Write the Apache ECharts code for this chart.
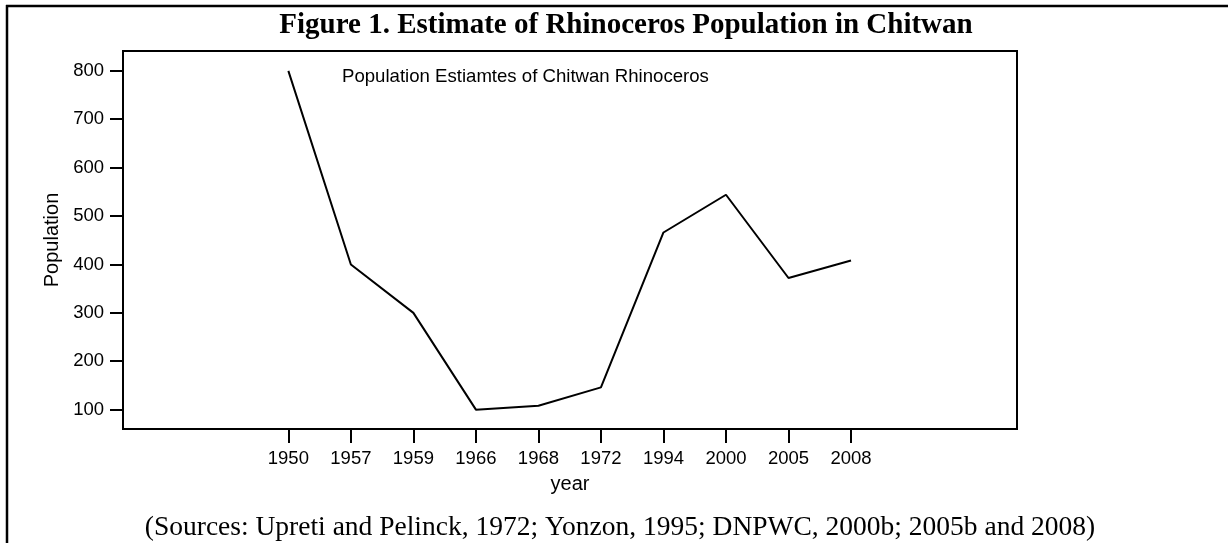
<!DOCTYPE html>
<html>
<head>
<meta charset="utf-8">
<title>Rhinoceros Population in Chitwan</title>
<script src="https://cdn.jsdelivr.net/npm/echarts@6.0.0/dist/echarts.min.js"></script>
<style>
  html, body {
    margin: 0;
    padding: 0;
    background: #fff;
  }
  #main {
    width: 1228px;
    height: 543px;
  }
</style>
</head>
<body>
<div id="main"></div>
<script>
// 年份（等距分类）
var years = ["1950", "1957", "1959", "1966", "1968", "1972", "1994", "2000", "2005", "2008"];
// 犀牛数量估计
var population = [800, 400, 300, 100, 108, 146, 466, 544, 372, 408];
// y 轴刻度
var yTicks = [100, 200, 300, 400, 500, 600, 700, 800];

var chartDom = document.getElementById("main");
var myChart = echarts.init(chartDom, null, { renderer: "canvas" });
var option;

var sans = "'Liberation Sans', Arial, sans-serif";
var serif = "'Liberation Serif', 'Times New Roman', serif";

// x 位置用序号，标签用年份
var seriesData = years.map(function (y, i) {
  return [i, population[i]];
});
var xIdx = years.map(function (y, i) {
  return i;
});

option = {
  animation: false,
  backgroundColor: "#fff",
  graphic: [
    // 外框（左、上）
    {
      type: "line",
      shape: { x1: 7, y1: 5, x2: 7, y2: 543 },
      style: { stroke: "#000", lineWidth: 2.5 },
    },
    {
      type: "line",
      shape: { x1: 6, y1: 6, x2: 1228, y2: 6 },
      style: { stroke: "#000", lineWidth: 2.5 },
    },
    {
      type: "text",
      x: 626,
      y: 26,
      style: {
        text: "Figure 1. Estimate of Rhinoceros Population in Chitwan",
        font: "bold 29px " + serif,
        fill: "#000",
        textAlign: "center",
        textVerticalAlign: "middle",
      },
    },
    {
      type: "text",
      x: 342,
      y: 77,
      style: {
        text: "Population Estiamtes of Chitwan Rhinoceros",
        font: "18.6px " + sans,
        fill: "#000",
        textAlign: "left",
        textVerticalAlign: "middle",
      },
    },
    {
      type: "text",
      x: 620,
      y: 528,
      style: {
        text: "(Sources: Upreti and Pelinck, 1972; Yonzon, 1995; DNPWC, 2000b; 2005b and 2008)",
        font: "27.5px " + serif,
        fill: "#000",
        textAlign: "center",
        textVerticalAlign: "middle",
      },
    },
  ],
  grid: {
    left: 123,
    top: 51,
    right: 211,
    bottom: 114,
    show: true,
    borderColor: "#000",
    borderWidth: 2,
    outerBoundsMode: "none",
  },
  xAxis: {
    type: "value",
    min: -2.645,
    max: 11.655,
    name: "year",
    nameLocation: "middle",
    nameGap: 45,
    nameTextStyle: { fontFamily: sans, fontSize: 20, color: "#000" },
    axisLine: { show: true, onZero: false, lineStyle: { color: "#000", width: 2 } },
    axisTick: {
      show: true,
      inside: false,
      length: 14,
      customValues: xIdx,
      lineStyle: { color: "#000", width: 2 },
    },
    axisLabel: {
      customValues: xIdx,
      margin: 20,
      fontFamily: sans,
      fontSize: 18.5,
      color: "#000",
      formatter: function (v) {
        return years[Math.round(v)];
      },
    },
    splitLine: { show: false },
  },
  yAxis: {
    type: "value",
    min: 60,
    max: 841,
    name: "Population",
    nameLocation: "middle",
    nameGap: 57,
    nameTextStyle: { fontFamily: sans, fontSize: 20, color: "#000" },
    axisLine: { show: true, onZero: false, lineStyle: { color: "#000", width: 2 } },
    axisTick: {
      show: true,
      inside: false,
      length: 13,
      customValues: yTicks,
      lineStyle: { color: "#000", width: 2 },
    },
    axisLabel: {
      customValues: yTicks,
      margin: 19,
      fontFamily: sans,
      fontSize: 18.5,
      color: "#000",
    },
    splitLine: { show: false },
  },
  series: [
    {
      name: "Population",
      type: "line",
      data: seriesData,
      symbol: "none",
      lineStyle: { color: "#000", width: 2 },
    },
  ],
};

option && myChart.setOption(option);
</script>
</body>
</html>
